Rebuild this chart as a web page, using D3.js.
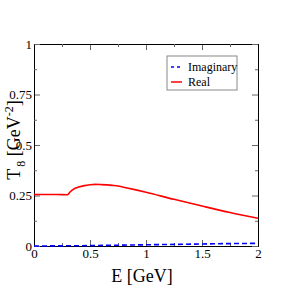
<!DOCTYPE html>
<html>
<head>
<meta charset="utf-8">
<script src="https://cdn.jsdelivr.net/npm/d3@7"></script>
<style>
  body { margin: 0; background: #fff; }
  text { font-family: "Liberation Serif", "DejaVu Serif", serif; }
</style>
</head>
<body>
<div id="chart"></div>
<script>
var xTicks = [0, 0.5, 1, 1.5, 2],
  xTickLabels = ["0", "0.5", "1", "1.5", "2"],
  yTicks = [0, 0.25, 0.5, 0.75, 1],
  yTickLabels = ["0", "0.25", "0.5", "0.75", "1"];

var realE = [0, 0.1, 0.2, 0.3, 0.32, 0.35, 0.4, 0.45, 0.5, 0.55, 0.6, 0.7, 0.75, 0.8, 0.9, 1, 1.25, 1.5, 1.75, 2],
  realT = [0.255, 0.255, 0.255, 0.254, 0.266, 0.28, 0.292, 0.299, 0.303, 0.305, 0.304, 0.3, 0.297, 0.291, 0.279, 0.266, 0.231, 0.198, 0.166, 0.137];

var imagE = [0, 0.3, 0.5, 0.75, 1, 1.25, 1.5, 1.75, 2],
  imagT = [0, 0.001, 0.002, 0.004, 0.006, 0.008, 0.01, 0.012, 0.013];

var seriesNames = ["Imaginary", "Real"];

var margin = { top: 44, right: 33, bottom: 45, left: 34 },
  width = 291 - margin.left - margin.right,
  height = 291 - margin.top - margin.bottom;

var x = d3.scaleLinear().domain([0, 2]).range([0, width]),
  y = d3.scaleLinear().domain([0, 1]).range([height, 0]);

var svg = d3
  .select("#chart")
  .append("svg")
  .attr("width", 291)
  .attr("height", 291);

var focus = svg
  .append("g")
  .attr("transform", "translate(" + margin.left + "," + margin.top + ")");

// inward ticks on all four sides
var minorX = d3.range(0.25, 2, 0.5),
  minorY = d3.range(0.125, 1, 0.25);

function tickAxis(axis, vals, size, labels) {
  return axis
    .tickValues(vals)
    .tickSizeInner(size)
    .tickSizeOuter(0)
    .tickFormat(function (d, i) {
      return labels ? labels[i] : "";
    });
}

var axes = [
  { f: function () { return d3.axisBottom(x); }, t: "translate(0," + height + ")", v: xTicks, m: minorX, lab: xTickLabels },
  { f: function () { return d3.axisTop(x); }, t: "translate(0,0)", v: xTicks, m: minorX },
  { f: function () { return d3.axisLeft(y); }, t: "translate(0,0)", v: yTicks, m: minorY, lab: yTickLabels },
  { f: function () { return d3.axisRight(y); }, t: "translate(" + width + ",0)", v: yTicks, m: minorY },
];

axes.forEach(function (ax) {
  var g = focus.append("g").attr("transform", ax.t);
  g.call(tickAxis(ax.f(), ax.v, -6, ax.lab));
  g.append("g").call(tickAxis(ax.f(), ax.m, -3, null));
  g.selectAll("path").attr("stroke", "#000");
  g.selectAll("line").attr("stroke", "#666");
  g.selectAll("text")
    .attr("fill", "#000")
    .style("font-size", "13px")
    .style("font-family", "Liberation Serif, serif");
});

focus.selectAll(".tick text").each(function () {
  var t = d3.select(this);
  if (t.attr("dy") === "0.71em") t.attr("y", 3);
  else t.attr("x", -2);
});

var line = d3
  .line()
  .x(function (d) { return x(d[0]); })
  .y(function (d) { return y(d[1]); })
  .curve(d3.curveMonotoneX);

focus
  .append("path")
  .datum(d3.zip(imagE, imagT))
  .attr("fill", "none")
  .attr("stroke", "#0000ff")
  .attr("stroke-width", 1.6)
  .attr("stroke-dasharray", "5,3")
  .attr("d", line);

focus
  .append("path")
  .datum(d3.zip(realE, realT))
  .attr("fill", "none")
  .attr("stroke", "#ff0000")
  .attr("stroke-width", 1.6)
  .attr("d", line);

// legend
var legend = svg.append("g").attr("transform", "translate(167,56)");
legend
  .append("rect")
  .attr("width", 70)
  .attr("height", 34)
  .attr("fill", "#fff")
  .attr("stroke", "#888");

var legColors = ["#0000ff", "#ff0000"],
  legDash = ["3,3", null];
seriesNames.forEach(function (name, i) {
  var row = legend.append("g").attr("transform", "translate(0," + (11 + i * 15) + ")");
  row
    .append("line")
    .attr("x1", 4)
    .attr("x2", 15)
    .attr("stroke", legColors[i])
    .attr("stroke-width", 1.5)
    .attr("stroke-dasharray", legDash[i]);
  row
    .append("text")
    .attr("x", 21)
    .attr("y", 4)
    .style("font-size", "12px")
    .text(name);
});

// axis titles
svg
  .append("text")
  .attr("x", 142)
  .attr("y", 282)
  .attr("text-anchor", "middle")
  .style("font-size", "18px")
  .text("E [GeV]");

var yl = svg
  .append("text")
  .attr("transform", "translate(20,140) rotate(-90)")
  .attr("text-anchor", "middle")
  .style("font-size", "18px");
yl.append("tspan").text("T");
yl.append("tspan").attr("dx", 2).attr("dy", 5).style("font-size", "12px").text("8");
yl.append("tspan").attr("dy", -5).text(" [GeV");
yl.append("tspan").attr("dy", -7).style("font-size", "12px").text("-2");
yl.append("tspan").attr("dy", 7).text("]");
</script>
</body>
</html>
